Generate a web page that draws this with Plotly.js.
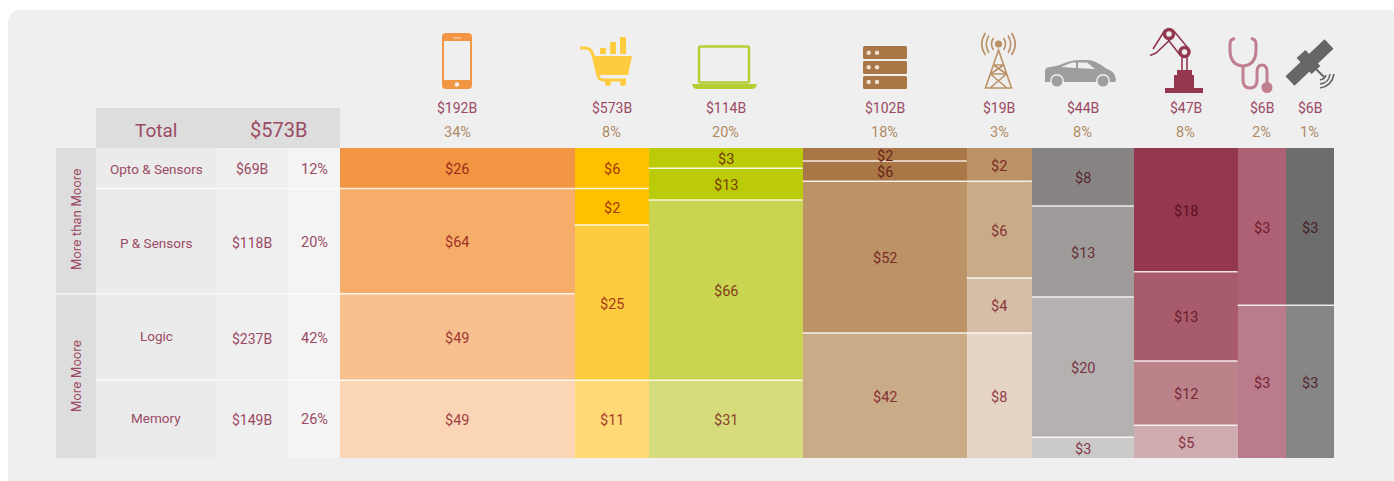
<!DOCTYPE html>
<html>
<head>
<meta charset="utf-8">
<script src="https://cdn.plot.ly/plotly-3.0.1.min.js"></script>
<style>
    html, body { margin: 0; padding: 0; background: #fff; overflow: hidden; }
    #panel { position: absolute; left: 8px; top: 10px; width: 1386px; height: 471px; background: #efefef; border-radius: 12px 4px 0 0; }
    #myDiv { position: absolute; left: 0; top: 0; width: 1394px; height: 481px; }
</style>
</head>
<body>
<div id="panel"></div>
<div id="myDiv"></div>
<script>
// column widths, % of the chart width
let colWidths = [23.6, 7.45, 15.5, 16.5, 6.55, 10.25, 10.45, 4.85, 4.85];
let colTotals = ["$192B", "$573B", "$114B", "$102B", "$19B", "$44B", "$47B", "$6B", "$6B"];
let colShares = ["34%", "8%", "20%", "18%", "3%", "8%", "8%", "2%", "1%"];

// segment heights, % of the column height, from the top of the column down
let level1 = [13.1, 13.1, 6.5, 4.2, 10.7, 18.7, 39.9, 50.7, 50.7];
let level2 = [33.9, 11.7, 10.3, 6.5, 31.2, 29.4, 28.8, 49.3, 49.3];
let level3 = [27.9, 50.1, 58.1, 49.0, 17.8, 45.2, 20.7, 0, 0];
let level4 = [25.1, 25.1, 25.1, 40.3, 40.3, 6.7, 10.6, 0, 0];

let labels1 = ["$26", "$6", "$3", "$2", "$2", "$8", "$18", "$3", "$3"];
let labels2 = ["$64", "$2", "$13", "$6", "$6", "$13", "$13", "$3", "$3"];
let labels3 = ["$49", "$25", "$66", "$52", "$4", "$20", "$12", "", ""];
let labels4 = ["$49", "$11", "$31", "$42", "$8", "$3", "$5", "", ""];

let colors1 = ["#F39644", "#FFC000", "#BBCB09", "#A97746", "#BC9267", "#878483", "#93384F", "#AE6075", "#6D6D6D"];
let colors2 = ["#F6AD69", "#FFC000", "#BBCB09", "#A97746", "#CAAB88", "#9E9B9A", "#A85B6A", "#BA7B8C", "#868686"];
let colors3 = ["#F9C08F", "#FFCC40", "#C9D450", "#BC9267", "#D6BDA5", "#B5B1B1", "#BB828A", "#BA7B8C", "#868686"];
let colors4 = ["#FAD5B6", "#FFD976", "#D6DC7C", "#CAAB88", "#E5D4C3", "#CBCAC9", "#D0ABB0", "#BA7B8C", "#868686"];

// left table
let rowNames = ["Opto & Sensors", "P & Sensors", "Logic", "Memory"];
let rowTotals = ["$69B", "$118B", "$237B", "$149B"];
let rowShares = ["12%", "20%", "42%", "26%"];
let rowNameY = [169, 243, 336, 418];
let rowValueY = [169.5, 242.5, 338.5, 419.5];
let groupNames = ["More than Moore", "More Moore"];

const FONT = "Roboto, sans-serif";
const WINE = "#9B4A63";
const TAN = "#B08A64";
const W = 1394, H = 481;
// page pixels to paper fractions, the plot area is placed by domain
const px = v => v / W;
const py = v => 1 - v / H;

// text is drawn darkened by the cell behind it
function labelColor(hex) {
    let base = [165, 75, 95];
    let rgb = [1, 3, 5].map((i, k) => Math.round(parseInt(hex.substr(i, 2), 16) * base[k] / 255));
    return "rgb(" + rgb.join(",") + ")";
}

let centers = [];
let edges = [0];
colWidths.forEach((w, i) => {
    centers.push(edges[i] + w / 2);
    edges.push(edges[i] + w);
});

let levels = [level1, level2, level3, level4];
let texts = [labels1, labels2, labels3, labels4];
let fills = [colors1, colors2, colors3, colors4];

let traces = levels.map((values, k) => ({
    type: "bar",
    x: centers,
    y: values,
    width: colWidths,
    marker: { color: fills[k], line: { width: 0 } },
    hoverinfo: "skip"
}));

function box(x0, x1, y0, y1, color) {
    return { type: "rect", xref: "paper", yref: "paper", layer: "below", x0: px(x0), x1: px(x1), y0: py(y0), y1: py(y1), fillcolor: color, line: { width: 0 } };
}

let shapes = [
    box(96, 340, 108, 148, "#DDDDDD"),
    box(56, 96, 148, 458, "#DDDDDD"),
    box(96, 216, 148, 458, "#EBEBEB"),
    box(288, 340, 148, 458, "#F4F4F4")
];

function note(x, y, text, size, color, extra) {
    return Object.assign({ xref: "paper", yref: "paper", x: px(x), y: py(y), text: text, showarrow: false, xanchor: "center", yanchor: "middle", font: { family: FONT, size: size, color: color } }, extra || {});
}

let annotations = [
    note(156, 130, "Total", 19, WINE),
    note(278, 130, "$573B", 20, WINE),
    note(76, 219, groupNames[0], 12, WINE, { textangle: -90, font: { family: "Inter, sans-serif", size: 12.5, color: WINE } }),
    note(76, 376, groupNames[1], 12, WINE, { textangle: -90, font: { family: "Inter, sans-serif", size: 12.5, color: WINE } })
];

// white lines between segments and the segment labels, from the segment heights
colWidths.forEach((w, i) => {
    let sum = 0;
    levels.forEach((values, k) => {
        if (texts[k][i] != "") {
            annotations.push({
                xref: "x", yref: "y", x: centers[i], y: sum + values[i] / 2, yshift: -1.5,
                text: texts[k][i], showarrow: false,
                font: { family: FONT, size: 14.5, color: labelColor(fills[k][i]) }
            });
        }
        sum += values[i];
        if (k < 3 && values[i] != 0 && sum < 100) {
            shapes.push({ type: "line", xref: "x", yref: "y", x0: edges[i], x1: edges[i + 1], y0: sum, y1: sum, line: { color: "rgba(255,255,255,0.85)", width: 1.5 } });
        }
    });
});

// same lines through the table, taken from the first column
let sum = 0;
levels.slice(0, 3).forEach((values, k) => {
    sum += values[0];
    shapes.push({ type: "line", xref: "paper", yref: "y", x0: px(k == 1 ? 56 : 96), x1: px(340), y0: sum, y1: sum, line: { color: "rgba(255,255,255,0.7)", width: 1.5 } });
});

rowNames.forEach((name, i) => {
    annotations.push(note(156, rowNameY[i], name, 13.5, WINE));
    annotations.push(note(252, rowValueY[i], rowTotals[i], 14, WINE));
    annotations.push(note(314, rowValueY[i], rowShares[i], 14.5, WINE));
});
centers.forEach((c, i) => {
    annotations.push(Object.assign(note(0, 108, colTotals[i], 14, WINE), { xref: "x", x: c }));
    annotations.push(Object.assign(note(0, 132, colShares[i], 14.5, TAN), { xref: "x", x: c }));
});

// icons, inner svg in page pixels
let icons = [
    [442, 33, 30, 56, '<rect x="442" y="33" width="30" height="56" rx="4" fill="#F39644"/><rect x="444" y="41" width="26" height="39" fill="#EFEFEF"/><rect x="453" y="37" width="8" height="1.5" fill="#F9C08F"/><circle cx="457" cy="84.5" r="2.2" fill="#EFEFEF"/>'],
    [578, 35, 56, 53, '<g fill="#FFCC40"><path d="M580 48H585Q591 48 593 55L598 76Q599 80 604 80H626" fill="none" stroke="#FFCC40" stroke-width="3"/><path d="M593 56H632L628 75H597Z"/><rect x="600" y="48" width="6" height="6"/><rect x="610" y="42" width="6" height="12"/><rect x="620" y="37" width="6" height="17"/><circle cx="608" cy="83" r="3"/><circle cx="623" cy="83" r="3"/></g>'],
    [690, 44, 69, 46, '<rect x="699" y="46.5" width="50" height="36" rx="2" fill="none" stroke="#B5CE36" stroke-width="2.5"/><path d="M692 84H757L756 87Q755 89 752 89H697Q694 89 693 87Z" fill="#B5CE36"/>'],
    [862, 45, 47, 45, '<g fill="#A97746"><rect x="863" y="46" width="44" height="13" rx="1.5"/><rect x="863" y="61" width="44" height="13" rx="1.5"/><rect x="863" y="76" width="44" height="13" rx="1.5"/></g><g fill="#EFE0D0"><circle cx="868.7" cy="52.7" r="2.2"/><circle cx="877" cy="52.7" r="2.2"/><circle cx="868.7" cy="67.3" r="2.2"/><circle cx="877" cy="67.3" r="2.2"/><circle cx="868.7" cy="82" r="2.2"/><circle cx="877" cy="82" r="2.2"/></g>'],
    [978, 31, 41, 60, '<circle cx="998.5" cy="44" r="3.6" fill="#BC9267"/><g fill="none" stroke="#BC9267" stroke-width="1.6"><path d="M993.5 38Q989.5 44 993.5 50M1003.5 38Q1007.5 44 1003.5 50M989 35.5Q983.5 44 989 53M1008 35.5Q1013.5 44 1008 53M985.5 33Q978 44 985.5 55M1011.5 33Q1019 44 1011.5 55"/><path d="M998.5 50L985.5 88H1011.5ZM993.5 65H1003.5M990.5 74L1007 88M1006.5 74L990 88M990.5 74H1006.5M993.5 65L1006.5 74M1003.5 65L990.5 74"/></g>'],
    [1043, 58, 74, 31, '<path d="M1045 82V71Q1045 67 1051 67L1060 65Q1070 60 1080 60H1088Q1095 60 1107 69Q1115 71 1116 80L1115 82Z" fill="#A09E9D"/><path d="M1061 67L1072 62.5H1076V68ZM1078 62.5H1087L1095 69L1078 68Z" fill="#EFEFEF"/><circle cx="1057" cy="81" r="7" fill="#EFEFEF"/><circle cx="1057" cy="81" r="5.5" fill="#A09E9D"/><circle cx="1103" cy="81" r="7" fill="#EFEFEF"/><circle cx="1103" cy="81" r="5.5" fill="#A09E9D"/>'],
    [1148, 26, 57, 68, '<g fill="#93384F"><rect x="1165" y="88" width="38" height="5"/><rect x="1174" y="75" width="20" height="13"/><rect x="1177" y="70" width="15" height="5"/></g><g fill="none" stroke="#93384F" stroke-width="1.6"><path d="M1182 57V70M1187 57V70M1173 30L1188 48M1166 37L1180 55M1165 30L1153 49M1172 38L1156 53L1150 55.5"/></g><g fill="#EFEFEF" stroke="#93384F" stroke-width="3.5"><circle cx="1169" cy="34" r="4.5"/><circle cx="1184.5" cy="52" r="4.5"/></g>'],
    [1227, 36, 47, 58, '<g fill="none" stroke="#BF7F8F" stroke-width="3"><path d="M1235 38.5Q1230 39 1230 44V50Q1230 65 1243 66Q1256 65 1256 50V44Q1256 39 1251 38.5"/><path d="M1243 66V80Q1243 88 1250 88Q1257 88 1257 80V72Q1257 65 1262 65Q1267 65 1267 72V84"/></g><circle cx="1267" cy="87.5" r="5.5" fill="#BF7F8F"/>'],
    [1283, 36, 53, 54, '<g fill="none" stroke="#666"><path d="M1290 81L1329 44" stroke-width="13"/><path d="M1301 54L1316 70" stroke-width="12"/><path d="M1316 69L1324 77" stroke-width="2"/><path d="M1320 88Q1332 86 1334 74M1320 84Q1329 83 1330 74M1320 80Q1325 79 1326 75" stroke-width="1.6"/></g>']
];

let images = icons.map(ic => ({
    source: "data:image/svg+xml;utf8," + encodeURIComponent('<svg xmlns="http://www.w3.org/2000/svg" viewBox="' + ic[0] + ' ' + ic[1] + ' ' + ic[2] + ' ' + ic[3] + '">' + ic[4] + '</svg>'),
    xref: "paper", yref: "paper",
    x: px(ic[0]), y: py(ic[1]),
    sizex: ic[2] / W, sizey: ic[3] / H,
    xanchor: "left", yanchor: "top",
    sizing: "stretch", layer: "above"
}));

let layout = {
    width: W,
    height: H,
    margin: { l: 0, r: 0, t: 0, b: 0 },
    paper_bgcolor: "rgba(0,0,0,0)",
    plot_bgcolor: "rgba(0,0,0,0)",
    barmode: "stack",
    showlegend: false,
    xaxis: { domain: [px(340), px(1334)], range: [0, edges[9]], visible: false, fixedrange: true },
    yaxis: { domain: [py(458), py(148)], range: [100, 0], visible: false, fixedrange: true },
    shapes: shapes,
    annotations: annotations,
    images: images
};

Plotly.newPlot("myDiv", traces, layout, { displayModeBar: false, staticPlot: true });
</script>
</body>
</html>
